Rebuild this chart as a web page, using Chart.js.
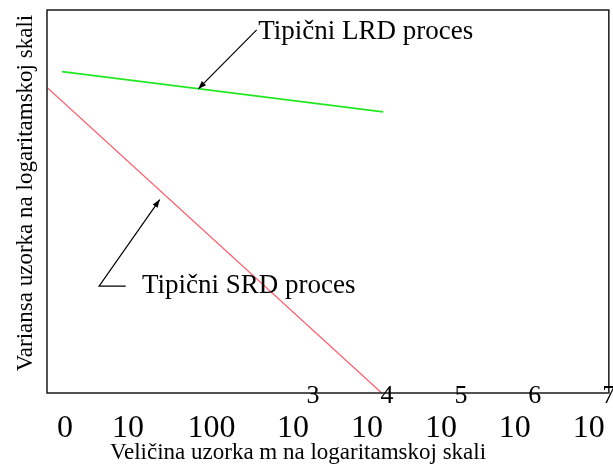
<!DOCTYPE html>
<html><head><meta charset="utf-8">
<script src="https://cdn.jsdelivr.net/npm/chart.js@4/dist/chart.umd.min.js"></script>
<style>html,body{margin:0;padding:0;background:#fff}</style>
</head><body>
<canvas id="c" width="613" height="467"></canvas>
<script>
// x positions are in "decades" (10^k at k)
const tickPositions = [-0.08, 0.77, 1.9, 3, 4, 5, 6, 7];
const tickLabels = ["0", "10", "100", "10", "10", "10", "10", "10"];
const tickExponents = ["", "", "", "3", "4", "5", "6", "7"];

const lrdX = [-0.12, 4.22];
const lrdY = [8.39, 7.34];
const srdX = [-0.32, 4.2];
const srdY = [7.97, 0];

const lrdLabel = "Tipični LRD proces";
const lrdLabelPos = [2.53, 9.43];
const lrdArrowPath = [[2.51, 9.48], [1.72, 7.94]];
const srdLabel = "Tipični SRD proces";
const srdLabelPos = [0.96, 2.79];
const srdArrowPath = [[0.74, 2.79], [0.38, 2.79], [1.2, 5.05]];

const xTitle = "Veličina uzorka m na logaritamskoj skali";
const yTitle = "Variansa uzorka na logaritamskoj skali";

const FONT = "'Liberation Serif', 'Times New Roman', serif";

const decor = {
  id: 'decor',
  afterDatasetsDraw(chart) {
    const ctx = chart.ctx, a = chart.chartArea;
    const xs = chart.scales.x, ys = chart.scales.y;
    ctx.save();
    ctx.strokeStyle = '#1a1a1a';
    ctx.lineWidth = 1.5;
    ctx.strokeRect(a.left, a.top, a.right - a.left, a.bottom - a.top);

    // exponents of the tick labels
    ctx.fillStyle = '#000';
    ctx.font = "26px " + FONT;
    ctx.textAlign = 'center';
    ctx.textBaseline = 'middle';
    tickPositions.forEach((v, i) => {
      if (!tickExponents[i]) return;
      ctx.fillText(tickExponents[i], xs.getPixelForValue(v) + 20, a.bottom + 3);
    });

    // annotations
    function arrow(path) {
      const pts = path.map(p => [xs.getPixelForValue(p[0]), ys.getPixelForValue(p[1])]);
      ctx.strokeStyle = '#000';
      ctx.lineWidth = 1.2;
      ctx.beginPath();
      ctx.moveTo(pts[0][0], pts[0][1]);
      for (let i = 1; i < pts.length; i++) ctx.lineTo(pts[i][0], pts[i][1]);
      ctx.stroke();
      const p1 = pts[pts.length - 2], p2 = pts[pts.length - 1];
      const ang = Math.atan2(p2[1] - p1[1], p2[0] - p1[0]);
      const L = 8, W = 3;
      ctx.beginPath();
      ctx.moveTo(p2[0], p2[1]);
      ctx.lineTo(p2[0] - L * Math.cos(ang) + W * Math.sin(ang), p2[1] - L * Math.sin(ang) - W * Math.cos(ang));
      ctx.lineTo(p2[0] - L * Math.cos(ang) - W * Math.sin(ang), p2[1] - L * Math.sin(ang) + W * Math.cos(ang));
      ctx.closePath();
      ctx.fillStyle = '#000';
      ctx.fill();
    }
    arrow(lrdArrowPath);
    arrow(srdArrowPath);
    ctx.font = "27px " + FONT;
    ctx.textAlign = 'left';
    ctx.textBaseline = 'middle';
    ctx.fillStyle = '#000';
    ctx.fillText(lrdLabel, xs.getPixelForValue(lrdLabelPos[0]), ys.getPixelForValue(lrdLabelPos[1]));
    ctx.fillText(srdLabel, xs.getPixelForValue(srdLabelPos[0]), ys.getPixelForValue(srdLabelPos[1]));

    // axis titles
    ctx.font = "23px " + FONT;
    ctx.textAlign = 'center';
    ctx.textBaseline = 'alphabetic';
    ctx.fillText(xTitle, 298, 459);
    ctx.translate(32, 193);
    ctx.rotate(-Math.PI / 2);
    ctx.fillText(yTitle, 0, 0);
    ctx.restore();
  }
};

new Chart(document.getElementById('c'), {
  type: 'line',
  data: {
    datasets: [
      { label: 'LRD', data: lrdX.map((x, i) => ({ x, y: lrdY[i] })), borderColor: '#22e822', borderWidth: 1.6, pointRadius: 0, fill: false },
      { label: 'SRD', data: srdX.map((x, i) => ({ x, y: srdY[i] })), borderColor: '#ff5a6a', borderWidth: 1.2, pointRadius: 0, fill: false }
    ]
  },
  options: {
    responsive: false,
    animation: false,
    devicePixelRatio: 1,
    layout: { padding: { top: 10, right: 4, left: 0, bottom: 0 } },
    plugins: { legend: { display: false }, tooltip: { enabled: false } },
    scales: {
      x: {
        type: 'linear', min: -0.324, max: 7.27,
        afterBuildTicks: s => { s.ticks = tickPositions.map(v => ({ value: v })); },
        afterFit: s => { s.height = 74; },
        ticks: {
          autoSkip: false, maxRotation: 0, padding: 8, color: '#000',
          font: { family: FONT, size: 32 },
          callback: (v, i) => tickLabels[i]
        },
        grid: { display: false },
        border: { display: false },
        title: { display: false, text: xTitle }
      },
      y: {
        min: 0, max: 10,
        afterFit: s => { s.width = 47; },
        ticks: { display: false },
        grid: { display: false },
        border: { display: false },
        title: { display: false, text: yTitle }
      }
    }
  },
  plugins: [decor]
});
</script>
</body></html>
